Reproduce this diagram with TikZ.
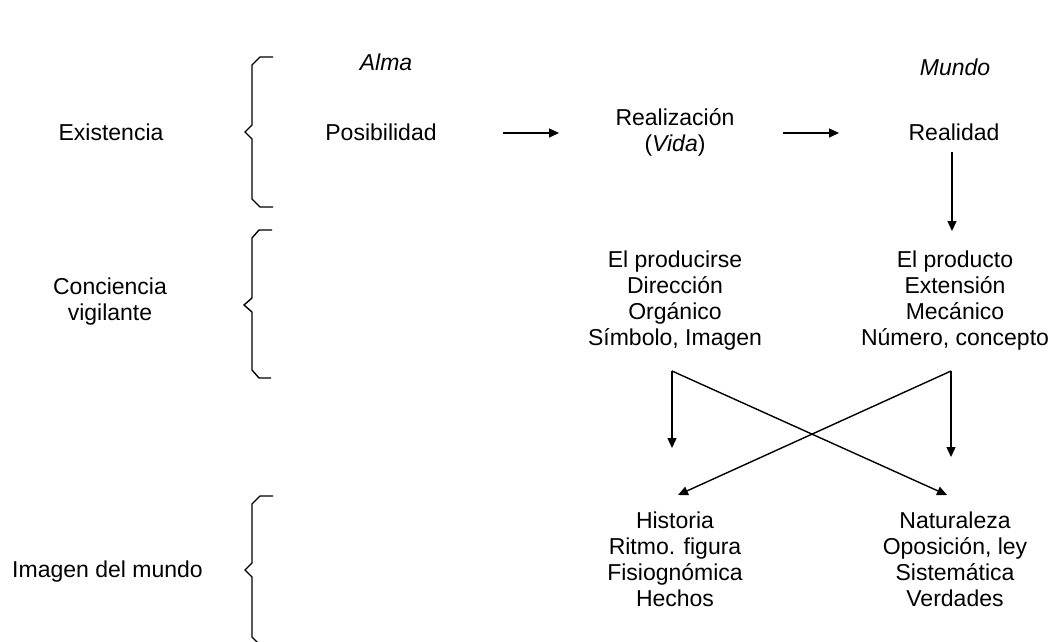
\documentclass[tikz,border=0pt]{standalone}
\usepackage{fontspec}
\setmainfont{Liberation Sans}
\usetikzlibrary{arrows.meta}
\begin{document}
\begin{tikzpicture}[x=1pt,y=-1pt,
  txt/.style={font=\fontsize{23}{26}\selectfont, inner sep=0pt, align=center},
  brace/.style={line width=1.4pt, line join=miter},
  arr/.style={line width=1.4pt, -{Triangle[length=10pt,width=9pt]}}]
\useasboundingbox (0,0) rectangle (1052,642);
% headers
\node[txt, font=\fontsize{23}{26}\selectfont\itshape] (alma) at (386,62) {Alma};
\node[txt, font=\fontsize{23}{26}\selectfont\itshape] (mundo) at (955,67) {Mundo};
% left labels
\node[txt] (exist) at (111,132) {Existencia};
\node[txt] (conc) at (110,302) {Conciencia\\vigilante};
\node[txt, anchor=west] (imag) at (12,572) {Imagen del mundo};
% braces
\draw[brace] (273,57) -- (260,57) -- (252,65) -- (252,125) -- (245,132) -- (252,139) -- (252,199) -- (260,207) -- (273,207);
\draw[brace] (272,230) -- (259,230) -- (252,238) -- (252,298) -- (244,305) -- (252,312) -- (252,370) -- (259,378) -- (271,378);
\draw[brace] (273,496) -- (260,496) -- (252,504) -- (252,563) -- (245,570) -- (252,577) -- (252,637) -- (260,645) -- (273,645);
% row 1
\node[txt] (pos) at (381,132) {Posibilidad};
\node[txt] (real) at (675,132) {Realización\\(\textit{Vida})};
\node[txt] (rlad) at (954,132) {Realidad};
\coordinate (a1s) at (503,133);
\coordinate (a1e) at (559,133);
\coordinate (a2s) at (783,133);
\coordinate (a2e) at (839,133);
\draw[arr] (a1s) -- (a1e);
\draw[arr] (a2s) -- (a2e);
% row 2
\node[txt] (prod1) at (675,301) {El producirse\\Dirección\\Orgánico\\Símbolo, Imagen};
\node[txt] (prod2) at (955,301) {El producto\\Extensión\\Mecánico\\Número, concepto};
\coordinate (d1s) at (952,152);
\coordinate (d1e) at (952,231);
\draw[arr] (d1s) -- (d1e);
% row 3
\node[txt] (hist) at (675,559) {Historia\\Ritmo. figura\\Fisiognómica\\Hechos};
\node[txt] (nat) at (955,559) {Naturaleza\\Oposición, ley\\Sistemática\\Verdades};
% connectors
\coordinate (l) at (672,371);
\coordinate (r) at (951,371);
\coordinate (lb) at (672,448);
\coordinate (rb) at (951,457);
\coordinate (lx) at (678,495);
\coordinate (rx) at (947,495);
\draw[arr] (l) -- (lb);
\draw[arr] (r) -- (rb);
\draw[arr] (l) -- (rx);
\draw[arr] (r) -- (lx);
\end{tikzpicture}
\end{document}
